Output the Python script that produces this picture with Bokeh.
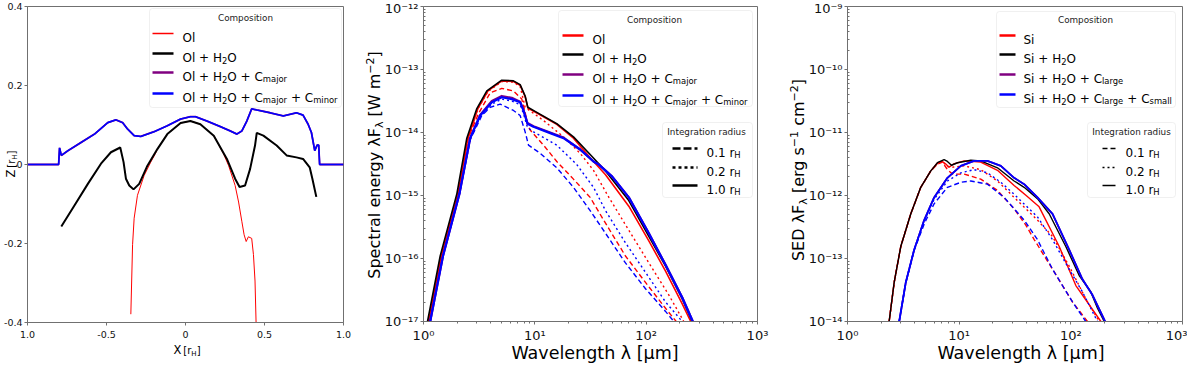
import numpy as np
from bokeh.plotting import figure
from bokeh.models import FixedTicker, Label, BoxAnnotation, Div
from bokeh.layouts import row, column
from bokeh.embed import file_html
from bokeh.resources import INLINE

FONT = "DejaVu Sans"
RED, BLACK, PURPLE, BLUE = "#ff0000", "#000000", "#800080", "#0000ff"
AXC = "#707070"

# ---------------- left panel: Z [r_H] vs X [r_H]
L_RED_X = [-0.346, -0.335, -0.325, -0.304, -0.262, -0.220, -0.190, -0.178, -0.115, -0.031, 0.031, 0.094,
           0.179, 0.241, 0.273, 0.314, 0.336, 0.357, 0.371, 0.384, 0.398, 0.419, 0.430, 0.440, 0.447]
L_RED_Z = [-0.379, -0.203, -0.136, -0.078, -0.028, 0.006, 0.028, 0.039, 0.077, 0.105, 0.110, 0.102,
           0.073, 0.027, -0.003, -0.053, -0.095, -0.145, -0.178, -0.195, -0.183, -0.187, -0.228, -0.295, -0.404]
L_BLACK_X = [-0.786, -0.702, -0.618, -0.535, -0.472, -0.413, -0.392, -0.377, -0.356, -0.329, -0.293, -0.241,
             -0.178, -0.115, -0.031, 0.031, 0.094, 0.179, 0.262, 0.314, 0.342, 0.377, 0.409, 0.440, 0.451,
             0.493, 0.577, 0.640, 0.702, 0.744, 0.786, 0.803, 0.828]
L_BLACK_Z = [-0.157, -0.103, -0.049, 0.002, 0.031, 0.043, 0.006, -0.036, -0.053, -0.063, -0.049, -0.003,
             0.039, 0.077, 0.105, 0.110, 0.102, 0.073, 0.014, -0.036, -0.057, -0.053, -0.011, 0.048, 0.080,
             0.073, 0.048, 0.023, 0.018, 0.014, -0.007, -0.036, -0.082]
L_PURPLE_X = [-1.0, -0.803, -0.797, -0.786, -0.744, -0.660, -0.576, -0.492, -0.440, -0.398, -0.367, -0.325,
              -0.283, -0.199, -0.115, -0.031, 0.031, 0.063, 0.136, 0.220, 0.283, 0.325, 0.357, 0.388, 0.419,
              0.451, 0.535, 0.619, 0.702, 0.744, 0.776, 0.797, 0.818, 0.833, 0.843, 0.849, 1.0]
L_PURPLE_Z = [0.0, 0.0, 0.042, 0.023, 0.035, 0.056, 0.077, 0.106, 0.113, 0.106, 0.090, 0.073,
              0.071, 0.083, 0.098, 0.115, 0.121, 0.121, 0.110, 0.096, 0.085, 0.077, 0.085, 0.110, 0.141,
              0.138, 0.131, 0.123, 0.131, 0.125, 0.102, 0.081, 0.035, 0.049, 0.049, 0.0, 0.0]
L_BLUE_X = [-1.0, -0.803, -0.797, -0.786, -0.744, -0.660, -0.576, -0.492, -0.440, -0.398, -0.367, -0.325,
            -0.283, -0.199, -0.115, -0.031, 0.031, 0.063, 0.136, 0.220, 0.283, 0.325, 0.357, 0.388, 0.419,
            0.451, 0.535, 0.619, 0.702, 0.744, 0.776, 0.797, 0.818, 0.833, 0.843, 0.849, 1.0]
L_BLUE_Z = [0.0, 0.0, 0.042, 0.023, 0.035, 0.056, 0.077, 0.106, 0.113, 0.106, 0.090, 0.073,
            0.071, 0.083, 0.098, 0.115, 0.121, 0.121, 0.110, 0.096, 0.085, 0.077, 0.085, 0.110, 0.141,
            0.138, 0.131, 0.123, 0.131, 0.125, 0.102, 0.081, 0.035, 0.049, 0.049, 0.0, 0.0]
L_XTICKS = [-1.0, -0.5, 0.0, 0.5, 1.0]
L_XLABELS = ["1.0", "-0.5", "0", "0.5", "1.0"]
L_YTICKS = [-0.4, -0.2, 0.0, 0.2, 0.4]
L_YLABELS = ["-0.4", "-0.2", "0", "0.2", "0.4"]

# ---------------- middle panel: log10 wavelength [um], log10 spectral energy [W m^-2]
M_RED_DASH_LX = [0.046, 0.16, 0.31, 0.399, 0.494, 0.599, 0.703, 0.808, 0.883, 0.913, 0.934, 0.958, 1.078,
                 1.197, 1.347, 1.497, 1.635, 1.814, 1.994, 2.174, 2.27]
M_RED_DASH_LF = [-17, -15.96, -14.97, -14.10, -13.70, -13.37, -13.30, -13.34, -13.47, -13.68, -13.88, -13.96,
                 -14.20, -14.46, -14.74, -15.03, -15.44, -15.96, -16.38, -16.79, -17]
M_RED_DOT_LX = [0.046, 0.16, 0.31, 0.399, 0.489, 0.579, 0.703, 0.808, 0.868, 0.913, 1.078, 1.258, 1.407,
                1.527, 1.665, 1.844, 2.024, 2.204, 2.338]
M_RED_DOT_LF = [-17, -15.96, -14.97, -14.09, -13.62, -13.35, -13.19, -13.20, -13.27, -13.60, -13.81, -14.07,
                -14.33, -14.60, -15.03, -15.55, -16.07, -16.58, -17]
M_RED_SOLID_LX = [0.046, 0.16, 0.31, 0.399, 0.489, 0.579, 0.703, 0.808, 0.868, 0.913, 0.937, 1.018, 1.197,
                  1.347, 1.497, 1.635, 1.844, 2.024, 2.174, 2.324, 2.40]
M_RED_SOLID_LF = [-17, -15.96, -14.97, -14.09, -13.62, -13.34, -13.18, -13.19, -13.25, -13.43, -13.61, -13.69,
                  -13.87, -14.09, -14.40, -14.67, -15.17, -15.72, -16.20, -16.72, -17]
M_BLACK_SOLID_LX = [0.036, 0.15, 0.30, 0.389, 0.479, 0.569, 0.703, 0.808, 0.868, 0.913, 0.937, 1.018, 1.197,
                    1.347, 1.497, 1.635, 1.844, 2.024, 2.174, 2.324, 2.413]
M_BLACK_SOLID_LF = [-17, -15.96, -14.97, -14.09, -13.62, -13.34, -13.17, -13.18, -13.24, -13.42, -13.60, -13.68,
                    -13.86, -14.07, -14.35, -14.61, -15.08, -15.65, -16.12, -16.64, -17]
M_PURPLE_SOLID_LX = [0.06, 0.175, 0.323, 0.419, 0.509, 0.614, 0.703, 0.793, 0.868, 0.898, 0.934, 0.988, 1.138,
                     1.258, 1.407, 1.527, 1.575, 1.695, 1.844, 2.024, 2.174, 2.324, 2.419]
M_PURPLE_SOLID_LF = [-17, -15.96, -14.97, -14.09, -13.72, -13.50, -13.42, -13.45, -13.51, -13.64, -13.85, -13.90,
                     -14.00, -14.08, -14.27, -14.46, -14.51, -14.70, -15.03, -15.60, -16.10, -16.62, -17]
M_BLUE_DASH_LX = [0.06, 0.175, 0.323, 0.419, 0.524, 0.599, 0.689, 0.808, 0.868, 0.913, 0.943, 1.048, 1.197,
                  1.347, 1.497, 1.635, 1.814, 1.994, 2.174, 2.249]
M_BLUE_DASH_LF = [-17, -15.96, -14.97, -14.12, -13.73, -13.60, -13.55, -13.65, -13.73, -13.99, -14.20, -14.33,
                  -14.56, -14.87, -15.24, -15.60, -16.07, -16.48, -16.84, -17]
M_BLUE_DOT_LX = [0.06, 0.175, 0.323, 0.419, 0.509, 0.614, 0.703, 0.793, 0.868, 0.898, 0.934, 0.988, 1.197,
                 1.377, 1.527, 1.635, 1.814, 1.994, 2.174, 2.324]
M_BLUE_DOT_LF = [-17, -15.96, -14.97, -14.10, -13.75, -13.55, -13.47, -13.50, -13.56, -13.70, -13.92, -13.99,
                 -14.20, -14.51, -14.87, -15.24, -15.75, -16.22, -16.69, -17]
M_BLUE_SOLID_LX = [0.06, 0.175, 0.323, 0.419, 0.509, 0.614, 0.703, 0.793, 0.868, 0.898, 0.934, 0.988, 1.138,
                   1.258, 1.407, 1.527, 1.575, 1.695, 1.844, 2.024, 2.174, 2.324, 2.419]
M_BLUE_SOLID_LF = [-17, -15.96, -14.97, -14.09, -13.73, -13.52, -13.44, -13.47, -13.52, -13.65, -13.86, -13.91,
                   -14.01, -14.09, -14.27, -14.46, -14.51, -14.70, -15.03, -15.60, -16.10, -16.62, -17]

# ---------------- right panel: log10 wavelength [um], log10 SED [erg s^-1 cm^-2]
R_RED_DASH_LX = [0.373, 0.418, 0.477, 0.567, 0.656, 0.746, 0.806, 0.850, 0.895, 0.940, 1.045, 1.193, 1.343,
                 1.492, 1.597, 1.672, 1.836, 2.015, 2.149]
R_RED_DASH_LF = [-14, -13.38, -12.81, -12.29, -11.87, -11.61, -11.50, -11.47, -11.59, -11.66, -11.66, -11.74,
                 -11.92, -12.21, -12.47, -12.70, -13.17, -13.69, -14]
R_RED_DOT_LX = [0.373, 0.418, 0.477, 0.567, 0.656, 0.746, 0.806, 0.850, 0.895, 0.940, 1.045, 1.193, 1.343,
                1.492, 1.701, 1.836, 1.985, 2.134, 2.254]
R_RED_DOT_LF = [-14, -13.38, -12.81, -12.29, -11.87, -11.61, -11.49, -11.46, -11.54, -11.55, -11.53, -11.59,
                -11.77, -12.03, -12.39, -12.65, -13.12, -13.64, -14]
R_RED_SOLID_LX = [0.373, 0.418, 0.477, 0.567, 0.656, 0.746, 0.806, 0.850, 0.880, 0.910, 0.950, 1.045, 1.193,
                  1.343, 1.492, 1.600, 1.716, 1.896, 2.045, 2.269]
R_RED_SOLID_LF = [-14, -13.38, -12.81, -12.29, -11.87, -11.61, -11.48, -11.46, -11.50, -11.55, -11.50, -11.45,
                  -11.47, -11.60, -11.84, -12.00, -12.18, -12.81, -13.43, -14]
R_BLACK_SOLID_LX = [0.373, 0.418, 0.477, 0.567, 0.656, 0.746, 0.806, 0.865, 0.895, 0.931, 0.985, 1.104, 1.193,
                    1.343, 1.492, 1.582, 1.701, 1.806, 1.955, 2.075, 2.179, 2.239, 2.299]
R_BLACK_SOLID_LF = [-14, -13.38, -12.81, -12.29, -11.87, -11.61, -11.48, -11.43, -11.46, -11.52, -11.48, -11.44,
                    -11.45, -11.56, -11.77, -11.87, -12.05, -12.29, -12.81, -13.27, -13.53, -13.79, -14]
R_PURPLE_SOLID_LX = [0.463, 0.522, 0.597, 0.687, 0.776, 0.895, 1.015, 1.134, 1.253, 1.373, 1.492, 1.582, 1.701,
                     1.836, 1.985, 2.104, 2.194, 2.307]
R_PURPLE_SOLID_LF = [-14, -13.38, -12.86, -12.39, -12.03, -11.72, -11.53, -11.45, -11.45, -11.53, -11.72, -11.82,
                     -12.03, -12.29, -12.86, -13.33, -13.58, -14]
R_BLUE_DASH_LX = [0.463, 0.522, 0.597, 0.687, 0.776, 0.895, 1.015, 1.104, 1.253, 1.403, 1.582, 1.701, 1.836,
                  2.015, 2.134]
R_BLUE_DASH_LF = [-14, -13.38, -12.87, -12.45, -12.13, -11.87, -11.79, -11.77, -11.82, -12.03, -12.39, -12.70,
                  -13.17, -13.69, -14]
R_BLUE_DOT_LX = [0.463, 0.522, 0.597, 0.687, 0.776, 0.895, 1.015, 1.134, 1.253, 1.373, 1.492, 1.701, 1.836,
                 1.985, 2.104, 2.239]
R_BLUE_DOT_LF = [-14, -13.38, -12.86, -12.40, -12.06, -11.77, -11.64, -11.59, -11.64, -11.79, -11.98, -12.34,
                 -12.70, -13.17, -13.53, -14]
R_BLUE_SOLID_LX = [0.463, 0.522, 0.597, 0.687, 0.776, 0.895, 1.015, 1.134, 1.253, 1.373, 1.492, 1.582, 1.701,
                   1.836, 1.985, 2.104, 2.194, 2.307]
R_BLUE_SOLID_LF = [-14, -13.38, -12.86, -12.39, -12.03, -11.72, -11.53, -11.45, -11.45, -11.53, -11.72, -11.82,
                   -12.03, -12.29, -12.86, -13.33, -13.58, -14]

LAM_TICKS = [1.0, 10.0, 100.0, 1000.0]
LAM_LABELS = ["10⁰", "10¹", "10²", "10³"]
M_YTICKS = [1e-17, 1e-16, 1e-15, 1e-14, 1e-13, 1e-12]
M_YLABELS = ["10⁻¹⁷", "10⁻¹⁶", "10⁻¹⁵", "10⁻¹⁴", "10⁻¹³", "10⁻¹²"]
R_YTICKS = [1e-14, 1e-13, 1e-12, 1e-11, 1e-10, 1e-9]
R_YLABELS = ["10⁻¹⁴", "10⁻¹³", "10⁻¹²", "10⁻¹¹", "10⁻¹⁰", "10⁻⁹"]

OL_NAMES = [[("Ol", "n")],
            [("Ol + H", "n"), ("2", "s"), ("O", "n")],
            [("Ol + H", "n"), ("2", "s"), ("O + C", "n"), ("major", "s")],
            [("Ol + H", "n"), ("2", "s"), ("O + C", "n"), ("major", "s"), (" + C", "n"), ("minor", "s")]]
SI_NAMES = [[("Si", "n")],
            [("Si + H", "n"), ("2", "s"), ("O", "n")],
            [("Si + H", "n"), ("2", "s"), ("O + C", "n"), ("large", "s")],
            [("Si + H", "n"), ("2", "s"), ("O + C", "n"), ("large", "s"), (" + C", "n"), ("small", "s")]]
COMP_COLORS = [RED, BLACK, PURPLE, BLUE]
RADII = ["0.1", "0.2", "1.0"]

SUB = '<span style="font-size:{s}px;vertical-align:{v}px;line-height:0">{t}</span>'
X_LEFT_TITLE = 'X<span style="font-size:10px;margin-left:2px">[r' + SUB.format(s=7, v=-2, t="H") + ']</span>'
Z_LEFT_TITLE = 'Z<span style="font-size:10px;margin-left:2px">[r' + SUB.format(s=7, v=-2, t="H") + ']</span>'
M_Y_TITLE = ('Spectral energy λF' + SUB.format(s=11, v=-3, t="λ") + ' [W m' + SUB.format(s=11, v=6, t="−2") + ']')
R_Y_TITLE = ('SED λF' + SUB.format(s=11, v=-3, t="λ") + ' [erg s' + SUB.format(s=11, v=6, t="−1") +
             ' cm' + SUB.format(s=11, v=6, t="−2") + ']')
LAM_TITLE = 'Wavelength λ [µm]'

# ---------------- helpers
EM = {' ': 0.318, '+': 0.838, '-': 0.361, '.': 0.318, '[': 0.390, ']': 0.390,
      'C': 0.698, 'D': 0.770, 'E': 0.632, 'F': 0.575, 'H': 0.752, 'I': 0.295, 'O': 0.787, 'S': 0.635,
      'W': 0.989, 'X': 0.685, 'Z': 0.685,
      'a': 0.613, 'c': 0.550, 'd': 0.635, 'e': 0.615, 'g': 0.635, 'h': 0.634, 'i': 0.278, 'j': 0.278,
      'l': 0.278, 'm': 0.974, 'n': 0.634, 'o': 0.612, 'p': 0.635, 'r': 0.411, 's': 0.521, 't': 0.392,
      'u': 0.634, 'v': 0.592, 'y': 0.592}
for d in "0123456789":
    EM[d] = 0.636


def tw(s, size):
    return sum(EM.get(c, 0.6) for c in s) * size


def make_conv(xlo, xhi, ylo, yhi, fw, fh, xlog, ylog):
    def conv(px, py):
        fx = px / fw
        fy = (fh - py) / fh
        if xlog:
            x = 10 ** (np.log10(xlo) + (np.log10(xhi) - np.log10(xlo)) * fx)
        else:
            x = xlo + (xhi - xlo) * fx
        if ylog:
            y = 10 ** (np.log10(ylo) + (np.log10(yhi) - np.log10(ylo)) * fy)
        else:
            y = ylo + (yhi - ylo) * fy
        return float(x), float(y)
    return conv


def rich(p, conv, px, py, parts, color="black"):
    """parts: (text, size, shift_down_px); drawn left to right from baseline (px, py)"""
    adv = 0.0
    for txt, size, shift in parts:
        lead = len(txt) - len(txt.lstrip(" "))
        xd, yd = conv(px + adv + tw(" " * lead, size), py + shift)
        p.add_layout(Label(x=xd, y=yd, text=txt.strip(" "), text_font=FONT,
                           text_font_size=f"{size:.1f}px", text_align="left",
                           text_baseline="alphabetic", text_color=color, level="overlay"))
        adv += tw(txt, size)


def entry_parts(name, size=12.0):
    out = []
    for txt, kind in name:
        if kind == "n":
            out.append((txt, size, 0.0))
        else:
            out.append((txt, size * 0.7, size * 0.22))
    return out


def legend_box(p, conv, x0, x1, y0, y1):
    l, t = conv(x0, y0)
    r, b = conv(x1, y1)
    p.add_layout(BoxAnnotation(left=l, right=r, top=t, bottom=b, fill_color="white", fill_alpha=0.85,
                               line_color="#cccccc", line_width=1, border_radius=3, level="annotation"))


def legend_title(p, conv, x, y, text):
    xd, yd = conv(x, y)
    p.add_layout(Label(x=xd, y=yd, text=text, text_font=FONT, text_font_size="8.8px",
                       text_align="center", text_baseline="middle", text_color="#222222", level="overlay"))


def legend_line(p, conv, x0, x1, y, color, width, dash="solid"):
    a = conv(x0, y)
    b = conv(x1, y)
    p.line([a[0], b[0]], [a[1], b[1]], line_color=color, line_width=width, line_dash=dash, level="overlay")


def base_fig(fw, fh, left, right, top, bottom, **kw):
    p = figure(frame_width=fw, frame_height=fh, min_border_left=left, min_border_right=right,
               min_border_top=top, min_border_bottom=bottom, output_backend="svg",
               toolbar_location=None, **kw)
    p.xgrid.visible = False
    p.ygrid.visible = False
    p.outline_line_color = AXC
    p.outline_line_width = 1
    p.background_fill_color = "white"
    p.border_fill_color = "white"
    for ax in (p.xaxis[0], p.yaxis[0]):
        ax.axis_line_color = AXC
        ax.major_tick_line_color = AXC
        ax.minor_tick_line_color = AXC
        ax.major_tick_in = 0
        ax.minor_tick_in = 0
        ax.major_label_text_font = FONT
        ax.major_label_text_color = "#111111"
    return p


# ================= LEFT PANEL
FW1, FH1 = 316, 316
p1 = base_fig(FW1, FH1, 24, 16, 4, 37, x_range=(-1, 1), y_range=(-0.4, 0.4))
c1 = make_conv(-1, 1, -0.4, 0.4, FW1, FH1, False, False)
p1.xaxis.ticker = FixedTicker(ticks=L_XTICKS)
p1.xaxis.major_label_overrides = dict(zip(L_XTICKS, L_XLABELS))
p1.yaxis.ticker = FixedTicker(ticks=L_YTICKS)
p1.yaxis.major_label_overrides = dict(zip(L_YTICKS, L_YLABELS))
for ax in (p1.xaxis[0], p1.yaxis[0]):
    ax.major_label_text_font_size = "9.5px"
    ax.major_tick_out = 3
    ax.major_label_standoff = 2
p1.xaxis.major_label_standoff = 5

p1.line(L_RED_X, L_RED_Z, line_color=RED, line_width=1.0)
p1.line(L_BLACK_X, L_BLACK_Z, line_color=BLACK, line_width=2.0)
p1.line(L_PURPLE_X, L_PURPLE_Z, line_color=PURPLE, line_width=1.8)
p1.line(L_BLUE_X, L_BLUE_Z, line_color=BLUE, line_width=1.6)

legend_box(p1, c1, 122, 314, 2, 101)
legend_title(p1, c1, 218, 11, "Composition")
for i, (name, col) in enumerate(zip(OL_NAMES, COMP_COLORS)):
    yrow = [27, 47, 66, 87][i]
    legend_line(p1, c1, 125, 146, yrow, col, 1.5 if i == 0 else 2.5)
    rich(p1, c1, 155, yrow + 4.3, entry_parts(name))


# ================= LOG PANELS
def log_panel(fw, fh, left, right, ylo, yhi, yticks, ylabels):
    p = base_fig(fw, fh, left, right, 6, 36, x_axis_type="log", y_axis_type="log",
                 x_range=(1, 1000), y_range=(ylo, yhi))
    xminor = [k * 10.0 ** d for d in range(0, 3) for k in range(2, 10)]
    e0 = int(round(np.log10(ylo)))
    e1 = int(round(np.log10(yhi)))
    yminor = [k * 10.0 ** d for d in range(e0, e1) for k in range(2, 10)]
    p.xaxis.ticker = FixedTicker(ticks=LAM_TICKS, minor_ticks=xminor)
    p.xaxis.major_label_overrides = dict(zip(LAM_TICKS, LAM_LABELS))
    p.yaxis.ticker = FixedTicker(ticks=yticks, minor_ticks=yminor)
    p.yaxis.major_label_overrides = dict(zip(yticks, ylabels))
    for ax in (p.xaxis[0], p.yaxis[0]):
        ax.major_label_text_font_size = "13px"
        ax.major_tick_out = 3
        ax.minor_tick_out = 2
    p.yaxis.minor_tick_out = 0
    p.yaxis.minor_tick_in = 2
    p.xaxis.major_label_standoff = 3
    p.yaxis.major_label_standoff = 2
    return p


def lg(lx, lf):
    return 10 ** np.array(lx), 10 ** np.array(lf)


DASH, DOT = "5 3", "2 3"

# middle
FW2, FH2 = 334, 315
p2 = log_panel(FW2, FH2, 64, 22, 1e-17, 1e-12, M_YTICKS, M_YLABELS)
c2 = make_conv(1, 1000, 1e-17, 1e-12, FW2, FH2, True, True)
mlines = [
    (M_RED_DASH_LX, M_RED_DASH_LF, RED, 1.4, DASH),
    (M_RED_DOT_LX, M_RED_DOT_LF, RED, 1.4, DOT),
    (M_RED_SOLID_LX, M_RED_SOLID_LF, RED, 1.6, "solid"),
    (M_BLACK_SOLID_LX, M_BLACK_SOLID_LF, BLACK, 1.6, "solid"),
    (M_PURPLE_SOLID_LX, M_PURPLE_SOLID_LF, PURPLE, 2.2, "solid"),
    (M_BLUE_DASH_LX, M_BLUE_DASH_LF, BLUE, 1.4, DASH),
    (M_BLUE_DOT_LX, M_BLUE_DOT_LF, BLUE, 1.4, DOT),
    (M_BLUE_SOLID_LX, M_BLUE_SOLID_LF, BLUE, 2.2, "solid"),
]
for lx, lf, col, lw, dash in mlines:
    xs, ys = lg(lx, lf)
    p2.line(xs, ys, line_color=col, line_width=lw, line_dash=dash, line_join="round")

legend_box(p2, c2, 135, 329, 4, 100)
legend_title(p2, c2, 231, 13, "Composition")
for i, (name, col) in enumerate(zip(OL_NAMES, COMP_COLORS)):
    yrow = [29, 48, 68, 89][i]
    legend_line(p2, c2, 139, 160, yrow, col, 2.5)
    rich(p2, c2, 169, yrow + 4.3, entry_parts(name))
legend_box(p2, c2, 239, 329, 116, 191)
legend_title(p2, c2, 283, 125, "Integration radius")
for i, (rad, dash) in enumerate(zip(RADII, ["8 3", "3 3", "solid"])):
    yrow = [142, 161, 179][i]
    legend_line(p2, c2, 249, 274, yrow, BLACK, 2.5, dash)
    rich(p2, c2, 283, yrow + 4.3, entry_parts([(rad + " r", "n"), ("H", "s")]))

# right
FW3, FH3 = 335, 315
p3 = log_panel(FW3, FH3, 68, 5, 1e-14, 1e-9, R_YTICKS, R_YLABELS)
c3 = make_conv(1, 1000, 1e-14, 1e-9, FW3, FH3, True, True)
rlines = [
    (R_RED_DASH_LX, R_RED_DASH_LF, RED, 1.4, DASH),
    (R_RED_DOT_LX, R_RED_DOT_LF, RED, 1.4, DOT),
    (R_RED_SOLID_LX, R_RED_SOLID_LF, RED, 1.4, "solid"),
    (R_BLACK_SOLID_LX, R_BLACK_SOLID_LF, BLACK, 1.4, "solid"),
    (R_PURPLE_SOLID_LX, R_PURPLE_SOLID_LF, PURPLE, 1.8, "solid"),
    (R_BLUE_DASH_LX, R_BLUE_DASH_LF, BLUE, 1.4, DASH),
    (R_BLUE_DOT_LX, R_BLUE_DOT_LF, BLUE, 1.4, DOT),
    (R_BLUE_SOLID_LX, R_BLUE_SOLID_LF, BLUE, 1.8, "solid"),
]
for lx, lf, col, lw, dash in rlines:
    xs, ys = lg(lx, lf)
    p3.line(xs, ys, line_color=col, line_width=lw, line_dash=dash, line_join="round")

legend_box(p3, c3, 149, 328, 5, 101)
legend_title(p3, c3, 238, 13, "Composition")
for i, (name, col) in enumerate(zip(SI_NAMES, COMP_COLORS)):
    yrow = [29, 48, 68, 88][i]
    legend_line(p3, c3, 152, 168, yrow, col, 2.5)
    rich(p3, c3, 176, yrow + 4.3, entry_parts(name))
legend_box(p3, c3, 240, 328, 116, 191)
legend_title(p3, c3, 284, 125, "Integration radius")
for i, (rad, dash) in enumerate(zip(RADII, ["5 3", "2 3", "solid"])):
    yrow = [142, 161, 179][i]
    legend_line(p3, c3, 255, 268, yrow, BLACK, 1.5, dash)
    rich(p3, c3, 278, yrow + 4.3, entry_parts([(rad + " r", "n"), ("H", "s")]))


# ================= axis titles (rich text with sub/superscripts) as an HTML overlay
OFF = 8  # the overlay's origin sits at the page corner


def htext(cx, baseline, html, fs, rotate=False, span=320):
    """Centered text in canvas px; for rotated text, cx is the baseline x and baseline is the centre y."""
    cx += OFF
    baseline += OFF
    if not rotate:
        left, top = cx - span / 2, baseline - 0.846 * fs
        extra = ""
    else:
        left, top = cx - 0.846 * fs, baseline + span / 2
        extra = "transform:rotate(-90deg);transform-origin:0 0;"
    return (f'<div style="position:absolute;left:{left:.1f}px;top:{top:.1f}px;width:{span}px;'
            f'text-align:center;font-size:{fs}px;line-height:1;white-space:nowrap;{extra}">{html}</div>')


overlay_html = (
    '<div style="position:relative;width:1184px;height:357px;font-family:\'DejaVu Sans\';color:#000;">'
    + htext(179, 347, X_LEFT_TITLE, 11.5)
    + htext(8, 156, Z_LEFT_TITLE, 11.5, rotate=True, span=120)
    + htext(372, 157, M_Y_TITLE, 16, rotate=True)
    + htext(796, 162, R_Y_TITLE, 16, rotate=True)
    + htext(587, 352, LAM_TITLE, 17.5)
    + htext(1013, 352, LAM_TITLE, 17.5)
    + '</div>'
)
overlay = Div(text=overlay_html, width=1184, height=357, margin=(-357, 0, 0, 0))

layout = column(row(p1, p2, p3), overlay)
open("out.html", "w").write(file_html(layout, INLINE))
